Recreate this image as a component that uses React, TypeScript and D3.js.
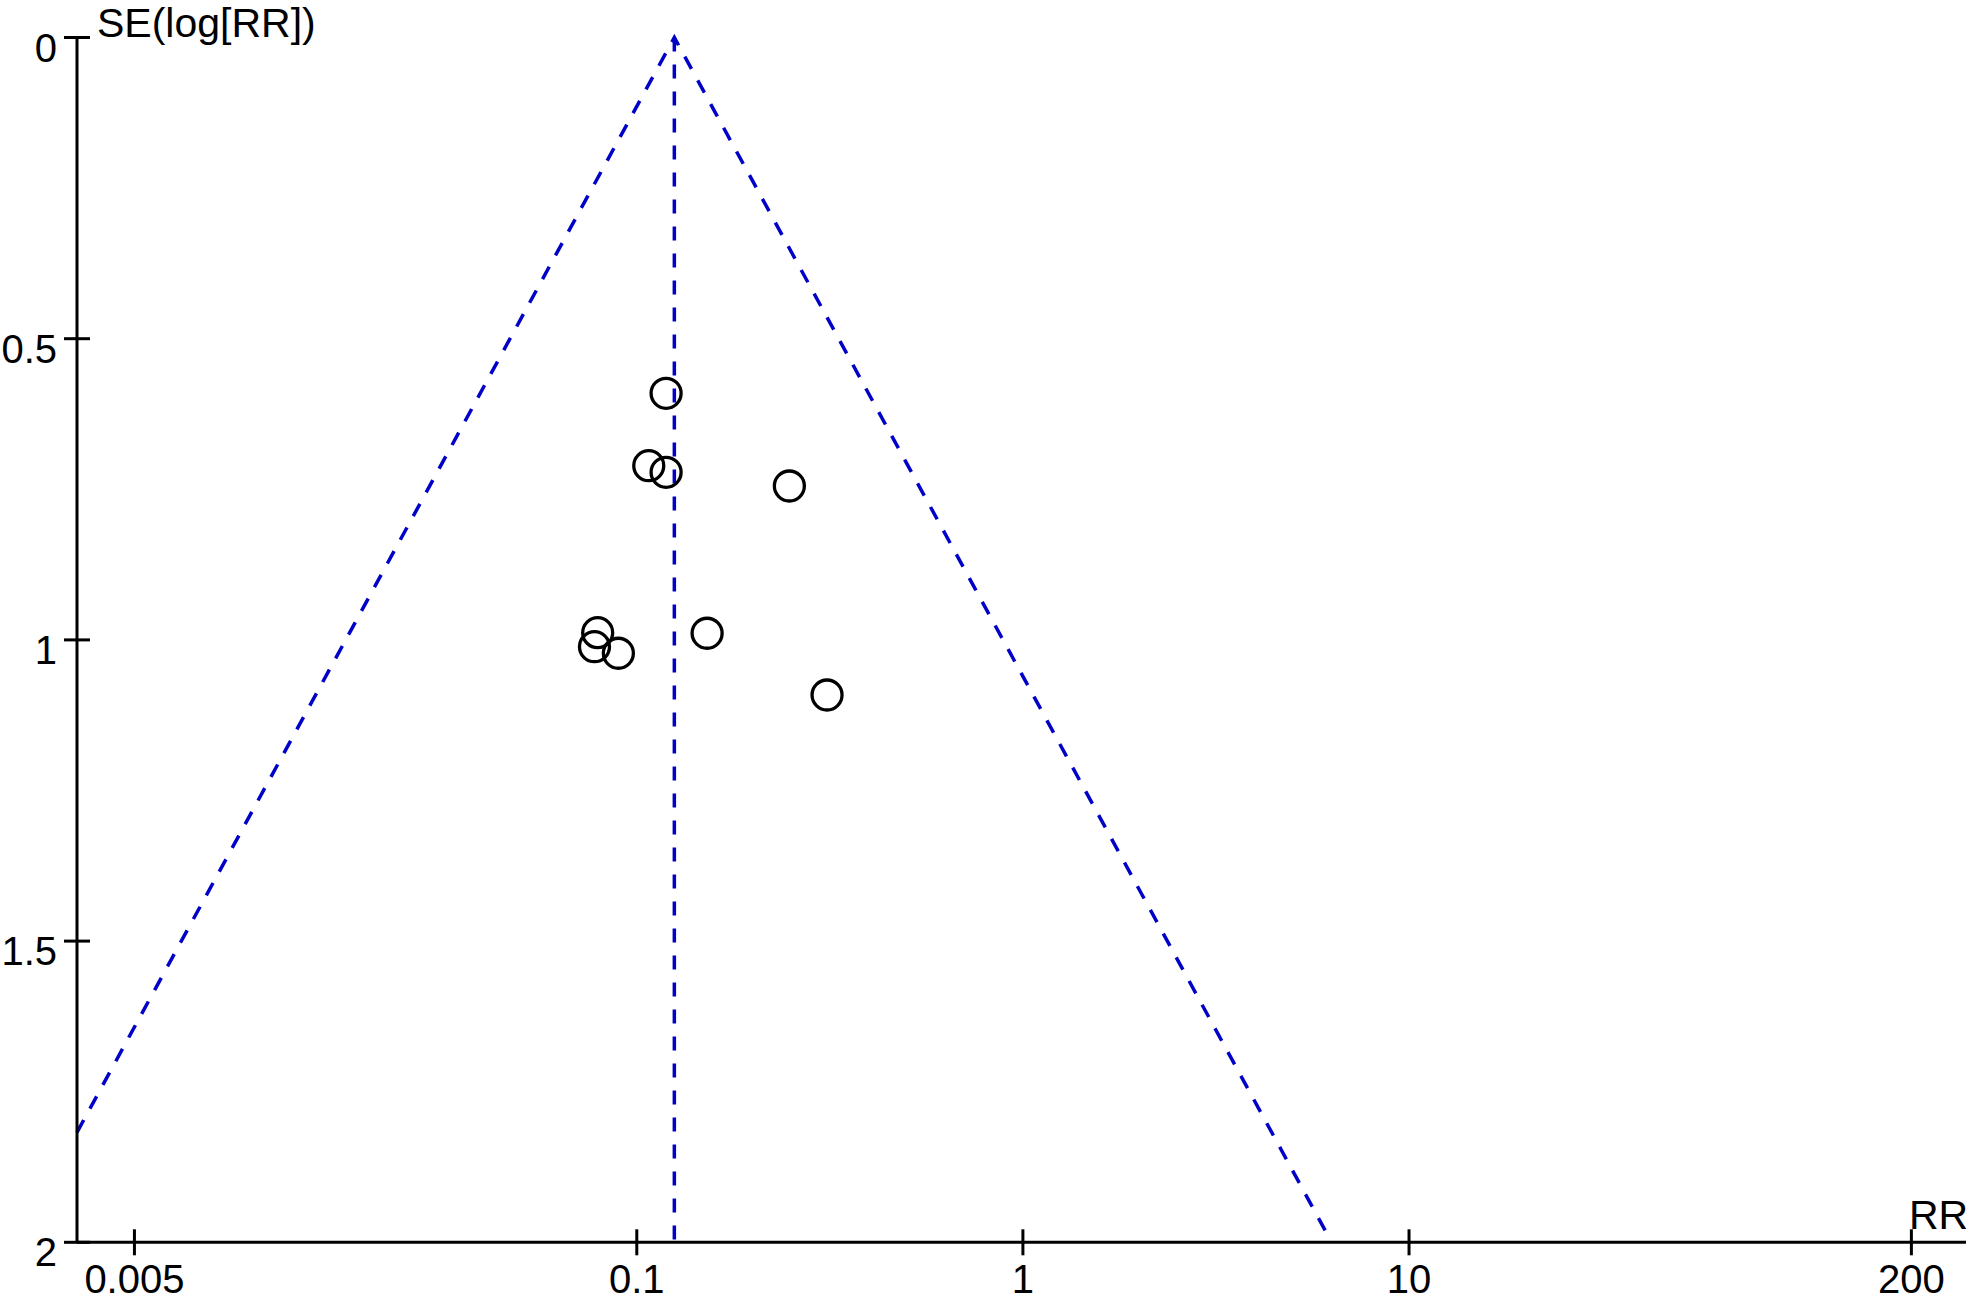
import React from "react";
import * as d3 from "d3";

// Study estimates: risk ratio and standard error of log(RR)
const studyRR = [0.1191, 0.1074, 0.1191, 0.2484, 0.0792, 0.0777, 0.0896, 0.1521, 0.311];
const studySE = [0.5906, 0.7108, 0.7218, 0.7445, 0.988, 1.0113, 1.0222, 0.989, 1.0915];
const pooledRR = [0.1251];
const xTicks = [0.005, 0.1, 1, 10, 200];
const xTickLabels = ["0.005", "0.1", "1", "10", "200"];
const yTicks = [0, 0.5, 1, 1.5, 2];
const yTickLabels = ["0", "0.5", "1", "1.5", "2"];
const xDomain = [0.00355, 277];
const yDomain = [0, 2];

const W = 1969;
const H = 1300;
const FONT = "'Liberation Sans', Arial, Helvetica, sans-serif";
const BLUE = "#0000C8";

export default function App() {
  const x = d3.scaleLog().domain(xDomain).range([77, 1966]);
  const y = d3.scaleLinear().domain(yDomain).range([37.5, 1242.3]);
  const pooled = pooledRR[0];
  const z = 1.96;
  const seLeft = (Math.log(pooled) - Math.log(xDomain[0])) / z;
  const leftEnd = { rr: xDomain[0], se: Math.min(seLeft, yDomain[1]) };
  const rightEnd = { rr: pooled * Math.exp(z * yDomain[1]), se: yDomain[1] };
  const line = d3
    .line<{ rr: number; se: number }>()
    .x((d) => x(d.rr))
    .y((d) => y(d.se));
  const apex = { rr: pooled, se: 0 };
  const x0 = x.range()[0];
  const yBottom = y(yDomain[1]);
  const tick = 13;
  const dash = "14 13";
  const fs = 41;
  const tfs = 40;

  return (
    <svg
      width={W}
      height={H}
      style={{ position: "absolute", left: 0, top: 0, background: "#fff" }}
      fontFamily={FONT}
    >
      <rect x={0} y={0} width={W} height={H} fill="#fff" />
      <path d={line([leftEnd, apex, rightEnd]) || ""} fill="none" stroke={BLUE} strokeWidth={3.5} strokeDasharray={dash} />
      <path d={line([apex, { rr: pooled, se: yDomain[1] }]) || ""} fill="none" stroke={BLUE} strokeWidth={3.5} strokeDasharray={dash} />
      <line x1={x0} x2={x0} y1={y(0)} y2={yBottom} stroke="#000" strokeWidth={3} />
      <line x1={x0} x2={x.range()[1]} y1={yBottom} y2={yBottom} stroke="#000" strokeWidth={3} />
      {yTicks.map((t, i) => (
        <g key={"y" + i}>
          <line x1={x0 - tick} x2={x0 + tick} y1={y(t)} y2={y(t)} stroke="#000" strokeWidth={3} />
          <text x={x0 - 20} y={y(t) + 24} textAnchor="end" fontSize={tfs} fill="#000">
            {yTickLabels[i]}
          </text>
        </g>
      ))}
      {xTicks.map((t, i) => (
        <g key={"x" + i}>
          <line x1={x(t)} x2={x(t)} y1={yBottom - tick} y2={yBottom + tick} stroke="#000" strokeWidth={3} />
          <text x={x(t)} y={1293} textAnchor="middle" fontSize={tfs} fill="#000">
            {xTickLabels[i]}
          </text>
        </g>
      ))}
      <text x={97} y={37} fontSize={fs} fill="#000">SE(log[RR])</text>
      <text x={1909} y={1229} fontSize={fs} fill="#000">RR</text>
      {studyRR.map((rr, i) => (
        <circle key={"c" + i} cx={x(rr)} cy={y(studySE[i])} r={15} fill="none" stroke="#000" strokeWidth={3.3} />
      ))}
    </svg>
  );
}
